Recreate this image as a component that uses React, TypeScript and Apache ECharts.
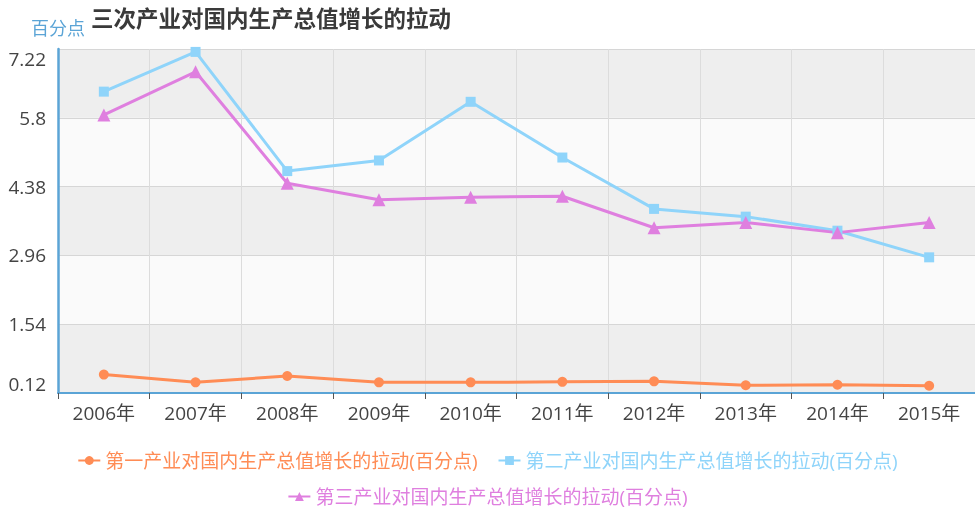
import React, { useEffect, useRef } from "react";
import * as echarts from "echarts";

const years = ["2006年", "2007年", "2008年", "2009年", "2010年", "2011年", "2012年", "2013年", "2014年", "2015年"];
const primary = [0.5, 0.34, 0.47, 0.34, 0.34, 0.35, 0.36, 0.28, 0.29, 0.27];
const secondary = [6.34, 7.16, 4.7, 4.92, 6.13, 4.98, 3.92, 3.76, 3.47, 2.92];
const tertiary = [5.86, 6.75, 4.45, 4.11, 4.16, 4.18, 3.53, 3.64, 3.43, 3.64];
const seriesNames = [
  "第一产业对国内生产总值增长的拉动(百分点)",
  "第二产业对国内生产总值增长的拉动(百分点)",
  "第三产业对国内生产总值增长的拉动(百分点)",
];
const colors = ["#ff8c55", "#8fd4fa", "#df7fdf"];
const symbols = ["circle", "rect", "triangle"];
const symbolSizes = [10, 10, 13];
const yMin = 0.12;
const yMax = 7.22;
const yInterval = 1.42;

export default function App() {
  const ref = useRef<HTMLDivElement>(null);
  useEffect(() => {
    if (!ref.current) return;
    const chart = echarts.init(ref.current, undefined, { renderer: "svg" });
    const font = "'Open Sans', 'Noto Sans CJK SC', sans-serif";
    const datasets = [primary, secondary, tertiary];
    const legendItem = (i: number) => ({ name: seriesNames[i], textStyle: { color: colors[i] } });
    const legendBase = {
      left: "center",
      itemWidth: 22,
      itemHeight: 11,
      itemGap: 20,
      textStyle: { fontSize: 19, fontFamily: font },
    };
    chart.setOption({
      animation: false,
      textStyle: { fontFamily: font },
      title: {
        text: "三次产业对国内生产总值增长的拉动",
        left: 86,
        top: 2,
        textStyle: { fontSize: 22.5, fontWeight: "bold", color: "#3a3a3a", fontFamily: font },
      },
      legend: [
        { ...legendBase, top: 446, data: [legendItem(0), legendItem(1)] },
        { ...legendBase, top: 482, data: [legendItem(2)] },
      ],
      grid: { left: 58, right: 0, top: 49, bottom: 118, containLabel: false },
      xAxis: {
        type: "category",
        data: years,
        boundaryGap: true,
        axisLine: { lineStyle: { color: "#5ba4d6", width: 2 } },
        axisTick: { show: true, alignWithLabel: false, length: 6, lineStyle: { color: "#555" } },
        axisLabel: { fontSize: 19, color: "#444", margin: 10, fontFamily: font },
        splitLine: { show: true, lineStyle: { color: "#dcdcdc", width: 1 } },
      },
      yAxis: {
        type: "value",
        min: yMin,
        max: yMax,
        interval: yInterval,
        name: "百分点",
        nameLocation: "end",
        nameGap: 12,
        nameTextStyle: { fontSize: 18, color: "#5ba4d6", fontFamily: font },
        axisLine: { show: true, lineStyle: { color: "#5ba4d6", width: 2.5 } },
        axisTick: { show: false },
        axisLabel: {
          fontSize: 19,
          color: "#444",
          margin: 12,
          fontFamily: font,
          verticalAlignMaxLabel: "top",
          verticalAlignMinLabel: "bottom",
        },
        splitLine: { show: true, lineStyle: { color: "#d6d6d6", width: 1 } },
        splitArea: { show: true, areaStyle: { color: ["#eeeeee", "#fafafa"] } },
      },
      series: datasets.map((d, i) => ({
        name: seriesNames[i],
        type: "line",
        data: d,
        symbol: symbols[i],
        symbolSize: symbolSizes[i],
        color: colors[i],
        lineStyle: { width: 3, color: colors[i] },
        itemStyle: { color: colors[i] },
      })),
    });
    return () => chart.dispose();
  }, []);
  return (
    <div
      ref={ref}
      style={{ position: "fixed", left: 0, top: 0, width: 975, height: 511 }}
    />
  );
}
